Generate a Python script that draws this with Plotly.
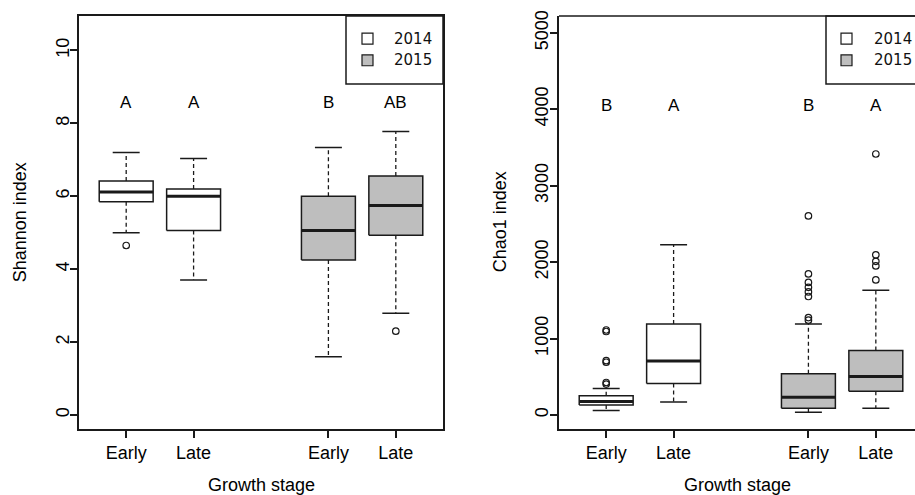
import plotly.graph_objects as go

# ---------------- data ----------------
stages = ["Early", "Late", "Early", "Late"]
years = ["2014", "2014", "2015", "2015"]
positions = [1, 2, 4, 5]

shannon_lower = [5.0, 3.7, 1.6, 2.79]
shannon_q1 = [5.85, 5.06, 4.25, 4.93]
shannon_median = [6.12, 6.0, 5.06, 5.75]
shannon_q3 = [6.42, 6.2, 6.0, 6.56]
shannon_upper = [7.2, 7.04, 7.34, 7.78]
shannon_outliers = [[4.65], [], [], [2.3]]
shannon_letters = ["A", "A", "B", "AB"]

chao_lower = [60, 170, 35, 87]
chao_q1 = [132, 412, 87, 310]
chao_median = [178, 705, 233, 504]
chao_q3 = [252, 1189, 539, 844]
chao_upper = [345, 2227, 1189, 1633]
chao_outliers = [[405, 425, 690, 710, 1092, 1112], [],
                 [1240, 1275, 1550, 1610, 1670, 1735, 1845, 2605],
                 [1767, 1950, 2010, 2095, 3415]]
chao_letters = ["B", "A", "B", "A"]

legend_years = ["2014", "2015"]

# ---------------- style ----------------
W, H = 915, 495
fill_colors = {"2014": "#FFFFFF", "2015": "#BEBEBE"}
LC = "#1a1a1a"
FONT = "Liberation Sans, Arial, sans-serif"
HW, CW = 0.4, 0.2


def pxx(x):
    return x / W


def pxy(y):
    return 1 - y / H


fig = go.Figure()


def add_boxes(lower, q1, med, q3, upper, outl, xa, ya):
    for i, pos in enumerate(positions):
        fc = fill_colors[years[i]]
        common = dict(xaxis=xa, yaxis=ya, showlegend=False, hoverinfo="skip")
        fig.add_trace(go.Scatter(
            x=[pos - HW, pos + HW, pos + HW, pos - HW, pos - HW],
            y=[q1[i], q1[i], q3[i], q3[i], q1[i]],
            mode="lines", fill="toself", fillcolor=fc,
            line=dict(color=LC, width=1.5), **common))
        fig.add_trace(go.Scatter(
            x=[pos - HW, pos + HW], y=[med[i], med[i]], mode="lines",
            line=dict(color=LC, width=3), **common))
        fig.add_trace(go.Scatter(
            x=[pos, pos, None, pos, pos],
            y=[q3[i], upper[i], None, q1[i], lower[i]], mode="lines",
            line=dict(color=LC, width=1.3, dash="4px,3px"), **common))
        fig.add_trace(go.Scatter(
            x=[pos - CW, pos + CW, None, pos - CW, pos + CW],
            y=[upper[i], upper[i], None, lower[i], lower[i]], mode="lines",
            line=dict(color=LC, width=1.5), **common))
        if outl[i]:
            fig.add_trace(go.Scatter(
                x=[pos] * len(outl[i]), y=outl[i], mode="markers",
                marker=dict(symbol="circle-open", size=6.5, color=LC,
                            line=dict(color=LC, width=1.2)), **common))


add_boxes(shannon_lower, shannon_q1, shannon_median, shannon_q3,
          shannon_upper, shannon_outliers, "x", "y")
add_boxes(chao_lower, chao_q1, chao_median, chao_q3,
          chao_upper, chao_outliers, "x2", "y2")

# letters
annotations = []
for i, pos in enumerate(positions):
    annotations.append(dict(x=pos, y=8.56, xref="x", yref="y",
                            text=shannon_letters[i], showarrow=False,
                            font=dict(family=FONT, size=17, color="black"),
                            yanchor="middle"))
    annotations.append(dict(x=pos, y=4045, xref="x2", yref="y2",
                            text=chao_letters[i], showarrow=False,
                            font=dict(family=FONT, size=17, color="black"),
                            yanchor="middle"))

# axis titles
annotations.append(dict(x=pxx(261), y=pxy(485), xref="paper", yref="paper",
                        text="Growth stage", showarrow=False,
                        font=dict(family=FONT, size=18, color="black"),
                        xanchor="center", yanchor="middle"))
annotations.append(dict(x=pxx(737), y=pxy(485), xref="paper", yref="paper",
                        text="Growth stage", showarrow=False,
                        font=dict(family=FONT, size=18, color="black"),
                        xanchor="center", yanchor="middle"))
annotations.append(dict(x=pxx(20), y=pxy(219), xref="paper", yref="paper",
                        text="Shannon index", showarrow=False, textangle=-90,
                        font=dict(family=FONT, size=18, color="black"),
                        xanchor="center", yanchor="middle"))
annotations.append(dict(x=pxx(500), y=pxy(219), xref="paper", yref="paper",
                        text="Chao1 index", showarrow=False, textangle=-90,
                        font=dict(family=FONT, size=18, color="black"),
                        xanchor="center", yanchor="middle"))

# legends (drawn manually, R style)
shapes = []
for box_left, box_right, sq_left, txt_left in [(346, 443, 362, 392),
                                                (826, 930, 841, 872)]:
    shapes.append(dict(type="rect", xref="paper", yref="paper",
                       x0=pxx(box_left), x1=pxx(box_right),
                       y0=pxy(79), y1=pxy(10),
                       line=dict(color=LC, width=1.5), fillcolor="white",
                       layer="above"))
    for j, yr in enumerate(legend_years):
        yc = 33 + j * 22
        shapes.append(dict(type="rect", xref="paper", yref="paper",
                           x0=pxx(sq_left), x1=pxx(sq_left + 11),
                           y0=pxy(yc + 5.5), y1=pxy(yc - 5.5),
                           line=dict(color=LC, width=1.2),
                           fillcolor=fill_colors[yr], layer="above"))
        annotations.append(dict(x=pxx(txt_left), y=pxy(yc), xref="paper",
                                yref="paper", text=yr, showarrow=False,
                                xanchor="left", yanchor="middle",
                                font=dict(family="DejaVu Sans, sans-serif",
                                          size=15, color="#111111")))

# right panel top frame line (right side is cut off)
shapes.append(dict(type="line", xref="paper", yref="paper",
                   x0=pxx(559), x1=1.0, y0=pxy(10), y1=pxy(10),
                   line=dict(color=LC, width=1.5)))

axis_common = dict(showgrid=False, zeroline=False, showline=True,
                   linecolor=LC, linewidth=1.5, ticks="outside", ticklen=7,
                   tickcolor=LC, tickwidth=1.5,
                   tickfont=dict(family=FONT, size=18, color="black"))

fig.update_layout(
    width=W, height=H, margin=dict(l=0, r=0, t=0, b=0),
    paper_bgcolor="white", plot_bgcolor="white", showlegend=False,
    xaxis=dict(domain=[pxx(79), pxx(443)], range=[0.3, 5.7],
               tickvals=positions, ticktext=stages, mirror=True,
               anchor="y", **axis_common),
    yaxis=dict(domain=[pxy(428), pxy(10)], range=[-0.38, 10.95],
               tickvals=[0, 2, 4, 6, 8, 10], tickangle=-90, mirror=True,
               anchor="x", ticklabelstandoff=-6, **axis_common),
    xaxis2=dict(domain=[pxx(559), 1.0], range=[0.3, 0.3 + (915 - 559) / 67.41],
                tickvals=positions, ticktext=stages, mirror=False,
                anchor="y2", **axis_common),
    yaxis2=dict(domain=[pxy(428), pxy(10)], range=[-181, 5222],
                tickvals=[0, 1000, 2000, 3000, 4000, 5000], tickangle=-90,
                mirror=False, anchor="x2", ticklabelstandoff=-5, **axis_common),
    annotations=annotations, shapes=shapes,
)

fig.write_html("out.html", config={"displayModeBar": False},
               post_script="document.body.style.margin='0';"
                           "document.body.style.overflow='hidden';")
